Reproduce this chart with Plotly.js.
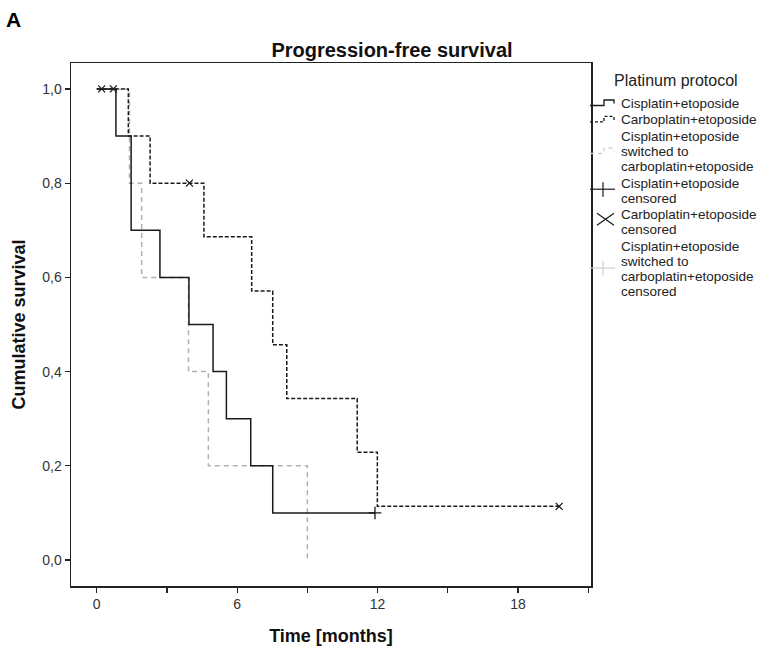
<!DOCTYPE html>
<html>
<head>
<meta charset="utf-8">
<script src="https://cdn.plot.ly/plotly-3.0.1.min.js"></script>
<style>
html,body{margin:0;padding:0;background:#fff;}
#chart{width:760px;height:648px;}
</style>
</head>
<body>
<div id="chart"></div>
<script>
// Kaplan-Meier step data (months, cumulative survival)
const cisTimes = [0, 0.82, 1.47, 2.70, 3.94, 4.97, 5.54, 6.58, 7.52, 11.89];
const cisSurv  = [1.0, 0.9, 0.7, 0.6, 0.5, 0.4, 0.3, 0.2, 0.1, 0.1];

const carbTimes = [0, 1.35, 2.28, 4.58, 6.62, 7.52, 8.12, 11.13, 11.99, 19.76];
const carbSurv  = [1.0, 0.9, 0.8, 0.686, 0.571, 0.457, 0.343, 0.229, 0.114, 0.114];

const swTimes = [0, 1.40, 1.92, 3.92, 4.77, 9.0];
const swSurv  = [1.0, 0.8, 0.6, 0.4, 0.2, 0.0];

// censored observations
const cisCensT = [11.89];
const cisCensS = [0.1];
const carbCensT = [0.21, 0.71, 3.96, 19.76];
const carbCensS = [1.0, 1.0, 0.8, 0.114];

// legend labels (one array of text lines per entry)
const legendTitle = 'Platinum protocol';
const legendLabels = [
  ['Cisplatin+etoposide'],
  ['Carboplatin+etoposide'],
  ['Cisplatin+etoposide', 'switched to', 'carboplatin+etoposide'],
  ['Cisplatin+etoposide', 'censored'],
  ['Carboplatin+etoposide', 'censored'],
  ['Cisplatin+etoposide', 'switched to', 'carboplatin+etoposide', 'censored']
];

const xTickVals = [0, 3, 6, 9, 12, 15, 18, 21];
const xTickText = ['0', '', '6', '', '12', '', '18', ''];
const yTickVals = [0, 0.2, 0.4, 0.6, 0.8, 1.0];

// ---- layout geometry (pixels) ----
const W = 760, H = 648;
const M = {l: 71, r: 169, t: 63, b: 62};
const PW = W - M.l - M.r, PH = H - M.t - M.b;
const fx = px => (px - M.l) / PW;
const fy = py => 1 - (py - M.t) / PH;

const BLACK = '#1a1a1a', GRAY = '#b0b0b0', LIGHT = '#cfcfcf';

const traces = [
  {x: swTimes, y: swSurv, mode: 'lines', line: {shape: 'hv', color: GRAY, width: 1.5, dash: '5px,4px'}},
  {x: carbTimes, y: carbSurv, mode: 'lines', line: {shape: 'hv', color: BLACK, width: 1.5, dash: '4px,2px'}},
  {x: cisTimes, y: cisSurv, mode: 'lines', line: {shape: 'hv', color: BLACK, width: 1.5}},
  {x: cisCensT, y: cisCensS, mode: 'markers', marker: {symbol: 'cross-thin', size: 9, color: BLACK, line: {width: 1.3, color: BLACK}}},
  {x: carbCensT, y: carbCensS, mode: 'markers', marker: {symbol: 'x-thin', size: 7, color: BLACK, line: {width: 1.3, color: BLACK}}}
];

// ---- custom legend (SPSS-style) ----
const legendFont = 13.5;
const lineGap = 15.2;
const entryGap = 16.4;
const textX = 619;
const entryFirstY = [];
{
  let y = 103.5;
  legendLabels.forEach(lines => { entryFirstY.push(y); y += (lines.length - 1) * lineGap + entryGap; });
}
const annotations = [
  {text: '<b>A</b>', xref: 'paper', yref: 'paper', x: fx(4), y: fy(19), xanchor: 'left', yanchor: 'middle', showarrow: false, font: {size: 21, color: '#000'}},
  {text: legendTitle, xref: 'paper', yref: 'paper', x: fx(612), y: fy(80), xanchor: 'left', yanchor: 'middle', showarrow: false, font: {size: 16, color: '#222'}}
];
legendLabels.forEach((lines, i) => {
  lines.forEach((ln, j) => {
    annotations.push({text: ln, xref: 'paper', yref: 'paper', x: fx(textX), y: fy(entryFirstY[i] + j * lineGap),
      xanchor: 'left', yanchor: 'middle', showarrow: false, font: {size: legendFont, color: '#222'}});
  });
});
const entryMid = entryFirstY.map((y, i) => y + (legendLabels[i].length - 1) * lineGap / 2);

function pathFrom(pts) {
  return pts.map((p, k) => (k ? 'L' : 'M') + fx(p[0]).toFixed(5) + ',' + fy(p[1]).toFixed(5)).join(' ');
}
function stepSymbol(yBase) {
  return [[590, yBase], [604, yBase], [604, yBase - 5.5], [614, yBase - 5.5], [614, yBase - 2]];
}
function plusSymbol(yc) {
  return [[[590, yc], [615, yc]], [[603, yc - 7], [603, yc + 7.5]]];
}
const plusA = plusSymbol(entryMid[3] - 1.5);
const plusB = plusSymbol(entryMid[5] - 1);
const xc = entryMid[4] - 3;
const shapes = [
  {type: 'path', xref: 'paper', yref: 'paper', path: pathFrom(stepSymbol(entryMid[0] + 2)), line: {color: BLACK, width: 1.3}},
  {type: 'path', xref: 'paper', yref: 'paper', path: pathFrom(stepSymbol(entryMid[1] + 2)), line: {color: BLACK, width: 1.3, dash: '3px,2px'}},
  {type: 'path', xref: 'paper', yref: 'paper', path: pathFrom(stepSymbol(entryMid[2] + 2)), line: {color: LIGHT, width: 1.3, dash: '4px,4px'}},
  // "+" censored symbol
  {type: 'path', xref: 'paper', yref: 'paper', path: pathFrom(plusA[0]), line: {color: BLACK, width: 1.2}},
  {type: 'path', xref: 'paper', yref: 'paper', path: pathFrom(plusA[1]), line: {color: BLACK, width: 1.2}},
  // "x" censored symbol
  {type: 'path', xref: 'paper', yref: 'paper', path: pathFrom([[597, xc - 6], [614, xc + 6]]), line: {color: BLACK, width: 1.2}},
  {type: 'path', xref: 'paper', yref: 'paper', path: pathFrom([[597, xc + 6], [614, xc - 6]]), line: {color: BLACK, width: 1.2}},
  // light "+" symbol
  {type: 'path', xref: 'paper', yref: 'paper', path: pathFrom(plusB[0]), line: {color: LIGHT, width: 1.2}},
  {type: 'path', xref: 'paper', yref: 'paper', path: pathFrom(plusB[1]), line: {color: LIGHT, width: 1.2}}
];

const layout = {
  width: W, height: H,
  margin: M,
  paper_bgcolor: '#fff', plot_bgcolor: '#fff',
  separators: ',.',
  font: {family: 'Liberation Sans, Arial, sans-serif', color: '#222', size: 12},
  title: {text: '<b>Progression-free survival</b>', font: {size: 20, color: '#111'}, x: 392 / W, xanchor: 'center', y: 1 - 50 / H, yanchor: 'middle'},
  showlegend: false,
  xaxis: {
    range: [-1.1, 21.12], tickvals: xTickVals, ticktext: xTickText,
    showline: true, linecolor: '#222', linewidth: 1.5, mirror: true,
    ticks: 'outside', ticklen: 5, tickcolor: '#222', tickwidth: 1.2,
    showgrid: false, zeroline: false,
    tickfont: {size: 14, color: '#333'},
    title: {text: '<b>Time [months]</b>', font: {size: 18, color: '#111'}, standoff: 18}
  },
  yaxis: {
    range: [-0.055, 1.055], tickvals: yTickVals, tickformat: '.1f',
    showline: true, linecolor: '#222', linewidth: 1.5, mirror: true,
    ticks: 'outside', ticklen: 5, tickcolor: '#222', tickwidth: 1.2,
    showgrid: false, zeroline: false,
    tickfont: {size: 14, color: '#333'},
    title: {text: '<b>Cumulative survival</b>', font: {size: 18, color: '#111'}, standoff: 12}
  },
  annotations: annotations,
  shapes: shapes
};

Plotly.newPlot('chart', traces, layout, {displayModeBar: false, staticPlot: true});
</script>
</body>
</html>
